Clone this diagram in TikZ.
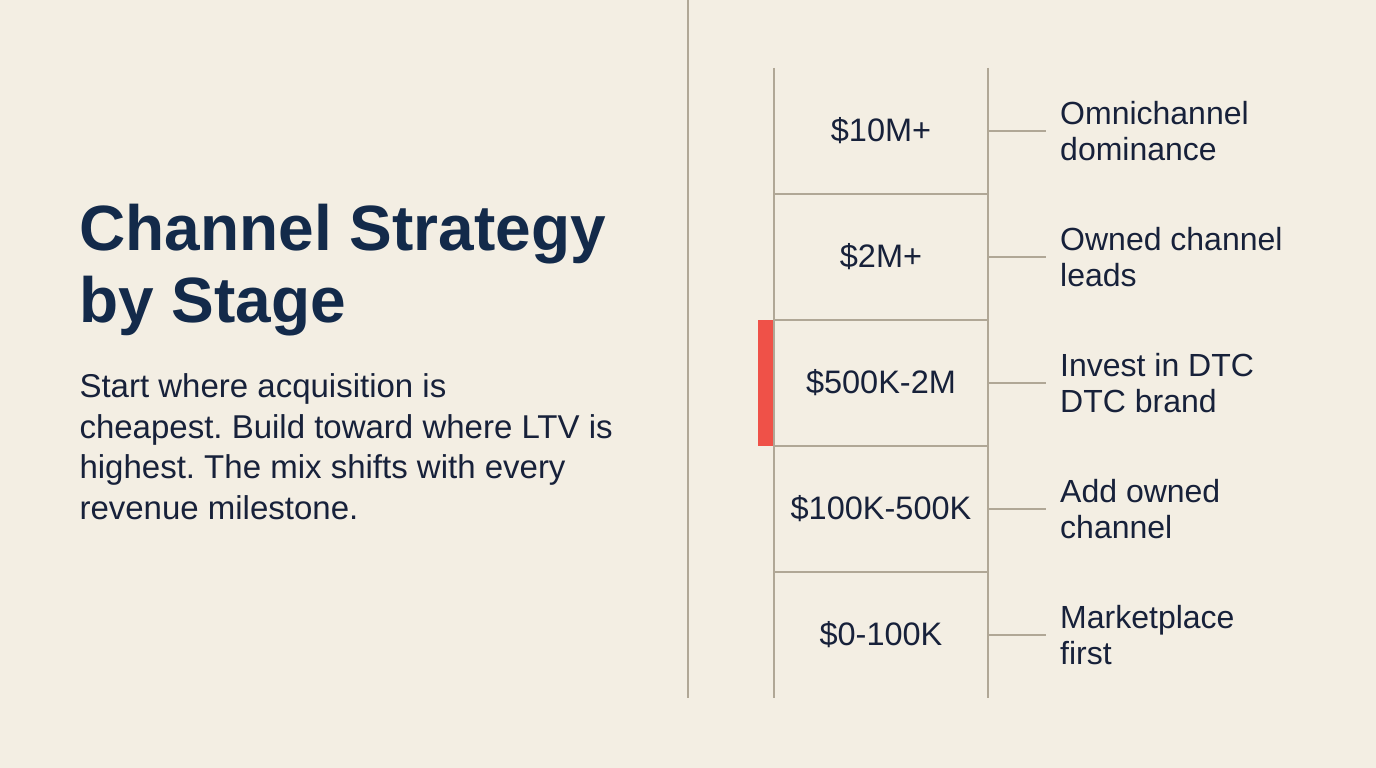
\documentclass[tikz,border=0pt]{standalone}
\usepackage{fontspec}
\setmainfont{Liberation Sans}
\frenchspacing
\usetikzlibrary{positioning, calc}
\pgfdeclarelayer{background}
\pgfdeclarelayer{foreground}
\pgfsetlayers{background,main,foreground}
\definecolor{paper}{HTML}{F3EEE3}
\definecolor{rail}{HTML}{B0A796}
\definecolor{ink}{HTML}{17213A}
\definecolor{titleink}{HTML}{132A4A}
\definecolor{marker}{HTML}{EF5148}
\newcommand{\Sz}[2]{\fontsize{#1}{#2}\selectfont}
\tikzset{
    stage/.style={rectangle, outer sep=0pt, inner sep=0pt,
        minimum width=214pt, minimum height=126pt, text=ink, font=\Sz{32.5}{36}},
    move/.style={anchor=west, align=left, inner sep=0pt, text=ink, font=\Sz{32}{36}},
    tick/.style={draw=rail, line width=2.8pt},
}

\begin{document}
\begin{tikzpicture}[x=1pt, y=-1pt]
    \tikzset{
      node distance=0pt
    }

    \fill[paper] (0,0) rectangle (1376,768);
    \useasboundingbox (0,0) rectangle (1376,768);

    \node[anchor=base west, align=left, text=titleink, font=\bfseries\Sz{64}{72}] (title) at (76,322) {Channel Strategy\\by Stage};
    \node[anchor=base west, align=left, text=ink, font=\Sz{33}{40.5}] (intro) at (76,519)
      {Start where acquisition is\\cheapest. Build toward where LTV is\\highest. The mix shifts with every\\revenue milestone.};

    \draw[rail, line width=2.4pt] (688,0) -- (688,698);

    \node[stage] (s5) at (881,131) {\$10M+};
    \node[stage, below=of s5] (s4) {\$2M+};
    \node[stage, below=of s4] (s3) {\$500K-2M};
    \node[stage, below=of s3] (s2) {\$100K-500K};
    \node[stage, below=of s2] (s1) {\$0-100K};

    \coordinate (hl) at (1298,446);
    \begin{pgfonlayer}{background}
      \fill[white] (s3.north west) rectangle (hl);
    \end{pgfonlayer}
    \fill[marker] ([xshift=-16pt]s3.north west) rectangle ([xshift=-1.4pt]s3.south west);

    \draw[tick] (s5.north west) -- (s1.south west);
    \draw[tick] (s5.north east) -- (s1.south east);
    \foreach \i in {1,...,4} {
      \draw[tick] (s\i.north west) -- (s\i.north east);
    }

    \node[move, right=72pt of s5] (m5) {Omnichannel\\dominance};
    \node[move, right=72pt of s4] (m4) {Owned channel\\leads};
    \node[move, right=72pt of s3] (m3) {Invest in DTC\\DTC brand};
    \node[move, right=72pt of s2] (m2) {Add owned\\channel};
    \node[move, right=72pt of s1] (m1) {Marketplace\\first};

    \foreach \i in {1,...,5} {
      \draw[tick] (s\i.east) -- ([xshift=-14pt]s\i.east -| m\i.west);
    }
  \end{tikzpicture}
\end{document}
